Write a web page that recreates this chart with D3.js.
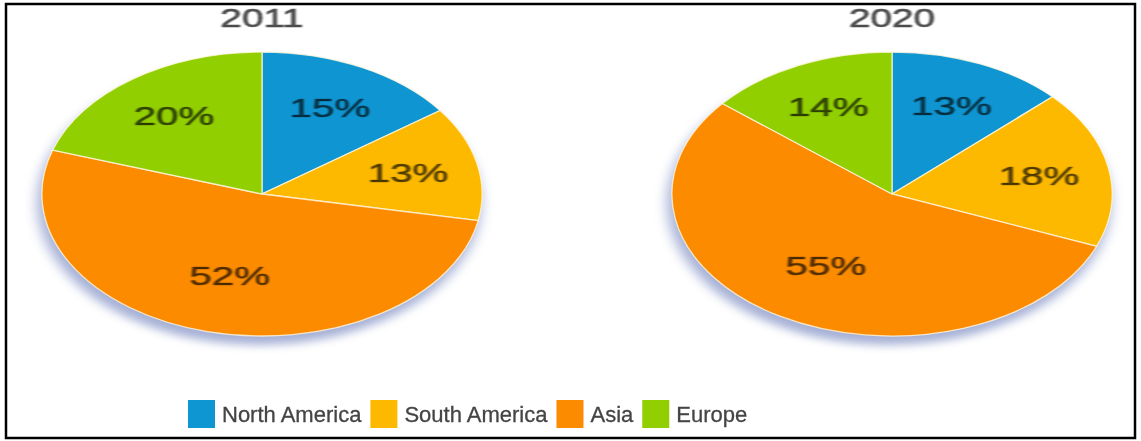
<!DOCTYPE html>
<html>
<head>
<meta charset="utf-8">
<script src="https://cdn.jsdelivr.net/npm/d3@7"></script>
<style>
  html, body { margin: 0; padding: 0; background: #fff; }
  svg { display: block; }
  text { font-family: "Liberation Sans", Arial, sans-serif; }
</style>
</head>
<body>
<svg id="chart" width="1141" height="441"></svg>
<script>
// ---- data ----
const regions = ["North America", "South America", "Asia", "Europe"];
const years = ["2011", "2020"];
const values2011 = [15, 13, 52, 20];
const values2020 = [13, 18, 55, 14];
const colors = ["#0f96d2", "#fdb900", "#fd8b00", "#91cf00"];

const seriesList = [values2011, values2020];

// ---- layout ----
const svg = d3.select("#chart");

const defs = svg.append("defs");
const f = defs.append("filter").attr("id", "shadow")
  .attr("x", "-20%").attr("y", "-20%").attr("width", "140%").attr("height", "140%");
f.append("feGaussianBlur").attr("stdDeviation", 4);

const blur = defs.append("filter").attr("id", "soft")
  .attr("x", "-20%").attr("y", "-20%").attr("width", "140%").attr("height", "140%");
blur.append("feGaussianBlur").attr("stdDeviation", 0.6);

// border
svg.append("rect")
  .attr("x", 6).attr("y", 4).attr("width", 1129).attr("height", 434)
  .attr("fill", "none").attr("stroke", "#000").attr("stroke-width", 2.5);

const R = 142;          // pie radius (circle space)
const stretch = 1.55;   // horizontal stretch of the pies
const centersX = d3.scaleOrdinal().domain(years).range([262, 892]);
const cy = 194;

const pie = d3.pie().sort(null).value(d => d);
const arc = d3.arc().innerRadius(0).outerRadius(R);
const labelArc = d3.arc().innerRadius(0).outerRadius(R * 1.36);
const bigLabelArc = d3.arc().innerRadius(0).outerRadius(R * 1.18);

years.forEach((yr, i) => {
  const g = svg.append("g")
    .attr("transform", `translate(${centersX(yr)},${cy}) scale(${stretch},1)`);

  // shadow
  g.append("ellipse")
    .attr("cx", -2).attr("cy", 9).attr("rx", R + 1).attr("ry", R)
    .attr("fill", "#8190c4").attr("opacity", 0.7)
    .attr("filter", "url(#shadow)");

  const arcs = pie(seriesList[i]);
  g.selectAll("path.slice").data(arcs).enter().append("path")
    .attr("class", "slice")
    .attr("d", arc)
    .attr("fill", (d, j) => colors[j])
    .attr("stroke", "#fff8e0")
    .attr("stroke-opacity", 0.8)
    .attr("stroke-width", 1.3)
    .attr("vector-effect", "non-scaling-stroke");

  g.selectAll("text.lbl").data(arcs).enter().append("text")
    .attr("class", "lbl")
    .attr("transform", d => {
      const c = (d.value > 50 ? bigLabelArc : labelArc).centroid(d);
      return `translate(${c[0]},${c[1]})`;
    })
    .attr("text-anchor", "middle")
    .attr("dy", "0.36em")
    .attr("font-size", 26)
    .attr("fill", "#000")
    .attr("fill-opacity", 0.66)
    .attr("stroke", "#000")
    .attr("stroke-opacity", 0.45)
    .attr("stroke-width", 0.7)
    .attr("filter", "url(#soft)")
    .text(d => d.value + "%");

  g.append("text")
    .attr("x", 0).attr("y", 27 - cy)
    .attr("text-anchor", "middle")
    .attr("font-size", 25)
    .attr("fill", "#4d4d4d")
    .attr("stroke", "#4d4d4d")
    .attr("stroke-width", 0.6)
    .attr("filter", "url(#soft)")
    .text(yr);
});

// ---- legend ----
const legend = svg.append("g").attr("transform", "translate(188,400)");
let x = 0;
const sq = 27;
regions.forEach((name, j) => {
  const item = legend.append("g").attr("transform", `translate(${x},0)`);
  item.append("rect")
    .attr("width", sq).attr("height", 28)
    .attr("fill", colors[j])
    .attr("filter", "url(#soft)");
  const t = item.append("text")
    .attr("x", sq + 7).attr("y", 22)
    .attr("font-size", 22)
    .attr("fill", "#444")
    .attr("stroke", "#444")
    .attr("stroke-width", 0.3)
    .attr("filter", "url(#soft)")
    .text(name);
  x += sq + 7 + t.node().getComputedTextLength() + 9;
});
</script>
</body>
</html>
